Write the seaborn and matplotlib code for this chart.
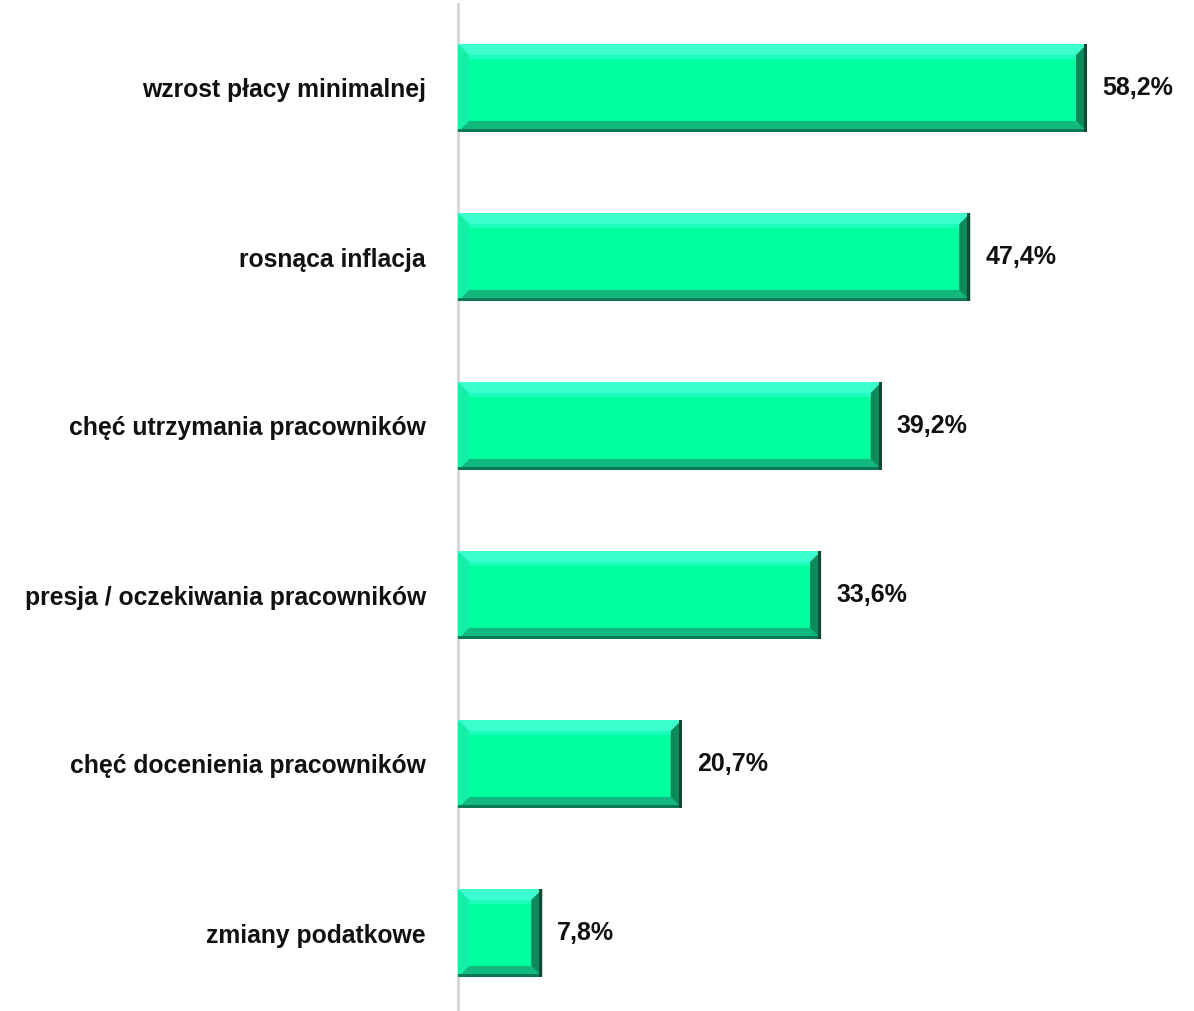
import matplotlib
matplotlib.use("Agg")
import matplotlib.pyplot as plt
import seaborn as sns
import pandas as pd
import numpy as np
from matplotlib.patches import Polygon
from matplotlib.transforms import IdentityTransform

categories = ["wzrost płacy minimalnej", "rosnąca inflacja", "chęć utrzymania pracowników",
              "presja / oczekiwania pracowników", "chęć docenienia pracowników", "zmiany podatkowe"]
values = [58.2, 47.4, 39.2, 33.6, 20.7, 7.8]
value_labels = ["58,2%", "47,4%", "39,2%", "33,6%", "20,7%", "7,8%"]

sns.set_theme(style="white")
plt.rcParams['font.family'] = ['Liberation Sans', 'DejaVu Sans']

W, H = 1194, 1011
fig = plt.figure(figsize=(W/100, H/100), dpi=100)
ax = fig.add_axes([458/W, (H-1017.5)/H, (W-458)/W, 1014/H])

df = pd.DataFrame({"cat": categories, "val": values})
sns.barplot(data=df, x="val", y="cat", orient="h", color="#00FF9E", width=0.52,
            saturation=1, ax=ax, edgecolor="none")
ax.set_xlim(0, 68.1)
ax.set_ylim(5.5, -0.5)
ax.set_xlabel("")
ax.set_ylabel("")
ax.set_xticks([])
for s in ["top", "right", "bottom"]:
    ax.spines[s].set_visible(False)
ax.spines["left"].set_color("#d4d4d4")
ax.spines["left"].set_linewidth(2)
ax.tick_params(axis="y", length=0, pad=23)
for t in ax.get_yticklabels():
    t.set_fontsize(17.8)
    t.set_fontweight("bold")
    t.set_color("#111111")

fig.canvas.draw()
b = 11
for p in ax.patches:
    x0, y0 = p.get_x(), p.get_y()
    x1, y1 = x0 + p.get_width(), y0 + p.get_height()
    (px0, py0), (px1, py1) = ax.transData.transform([(x0, y0), (x1, y1)])
    L, R = min(px0, px1), max(px0, px1)
    B, T = min(py0, py1), max(py0, py1)
    polys = [
        ([(L, T), (R, T), (R-b, T-b), (L+b, T-b)], "#3CFFD0"),
        ([(L, B), (R, B), (R-b, B+b), (L+b, B+b)], "#11B97E"),
        ([(R, B), (R, T), (R-b, T-b), (R-b, B+b)], "#0C8A5C"),
        ([(L, B), (L, T), (L+b, T-b), (L+b, B+b)], "#14F0A8"),
    ]
    for pts, c in polys:
        ax.add_patch(Polygon(pts, closed=True, facecolor=c, edgecolor="none",
                             transform=IdentityTransform(), zorder=3))
    ax.add_patch(Polygon([(L+b, T-b), (R-b, T-b), (R-b, T-b-4), (L+b, T-b-4)], closed=True,
                         facecolor="#1CFFBC", edgecolor="none",
                         transform=IdentityTransform(), zorder=3))
    ax.add_patch(Polygon([(L, B), (R, B), (R, B+3), (L, B+3)], closed=True,
                         facecolor="#0A7A52", edgecolor="none",
                         transform=IdentityTransform(), zorder=4))
    ax.add_patch(Polygon([(R-3, B), (R, B), (R, T), (R-3, T)], closed=True,
                         facecolor="#064D33", edgecolor="none",
                         transform=IdentityTransform(), zorder=4))

for i, (v, lab) in enumerate(zip(values, value_labels)):
    ax.annotate(lab, xy=(v, i), xytext=(15, 0), textcoords="offset pixels",
                ha="left", va="center", fontsize=18, fontweight="bold", color="#111111")

fig.savefig("out.png", dpi=100, facecolor="white")
